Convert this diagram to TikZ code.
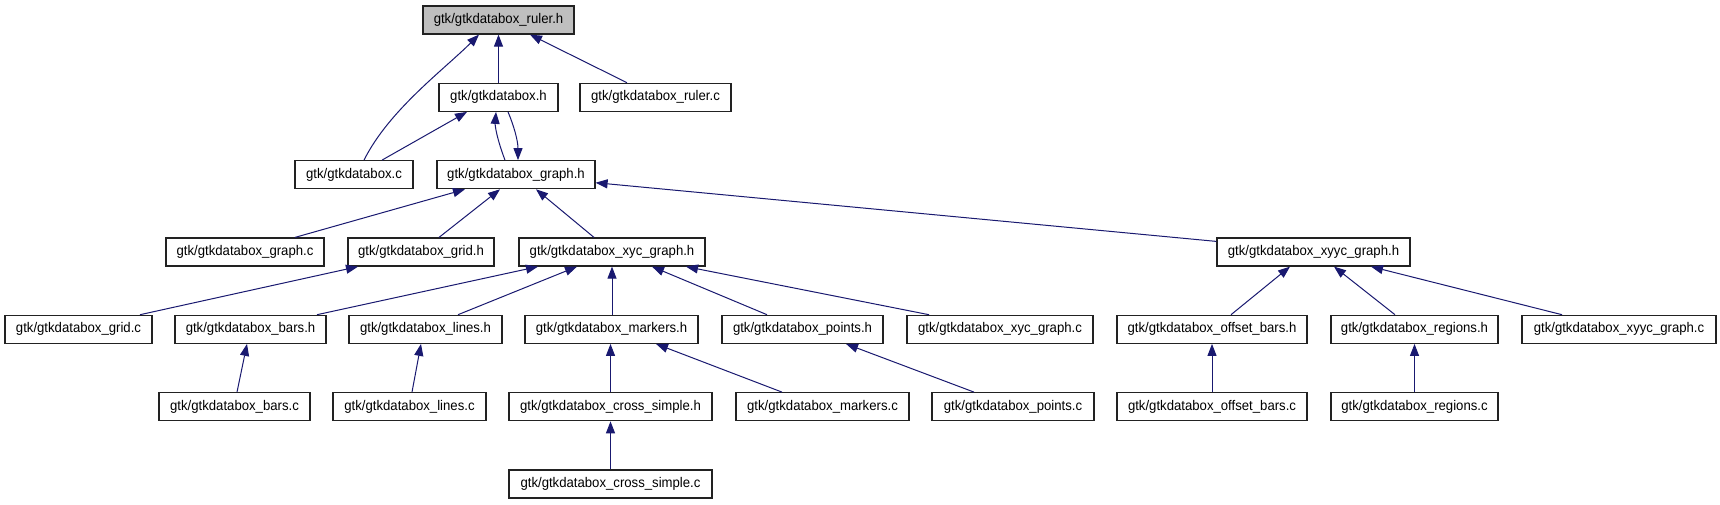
\documentclass[tikz,border=0pt]{standalone}
\usepackage{fontspec}
\setmainfont[FakeStretch=0.94]{Liberation Sans}
\usetikzlibrary{arrows.meta,calc}
\definecolor{edgec}{HTML}{191970}
\definecolor{selfill}{HTML}{BFBFBF}
\definecolor{boxline}{HTML}{222222}
\begin{document}
\begin{tikzpicture}[x=1pt,y=-1pt,
  nbox/.style={draw=boxline, line width=1.2pt, fill=white, inner sep=0pt, minimum height=28pt,
     font=\fontsize{14}{16}\selectfont, anchor=center},
  dep/.style={draw=edgec, line width=1pt, -{Triangle[length=12pt,width=9pt]}}]
\useasboundingbox (0,0) rectangle (1720,504);
\fill[white] (0,0) rectangle (1720,504);
% row 0
\node[nbox, fill=selfill, minimum width=151pt] (R) at (498.5,20) {gtk/gtkdatabox\_ruler.h};
% row 1
\node[nbox, minimum width=119pt] (DH) at (498.5,97.3) {gtk/gtkdatabox.h};
\node[nbox, minimum width=151pt] (RC) at (655.5,97.3) {gtk/gtkdatabox\_ruler.c};
% row 2
\node[nbox, minimum width=118pt] (DC) at (354,174.7) {gtk/gtkdatabox.c};
\node[nbox, minimum width=158pt] (GH) at (516,174.7) {gtk/gtkdatabox\_graph.h};
% row 3
\node[nbox, minimum width=158pt] (GC) at (245,252) {gtk/gtkdatabox\_graph.c};
\node[nbox, minimum width=146pt] (GRH) at (421,252) {gtk/gtkdatabox\_grid.h};
\node[nbox, minimum width=186pt] (XH) at (612,252) {gtk/gtkdatabox\_xyc\_graph.h};
\node[nbox, minimum width=193pt] (YH) at (1313.5,252) {gtk/gtkdatabox\_xyyc\_graph.h};
% row 4
\node[nbox, minimum width=147pt] (GRC) at (78.5,329.3) {gtk/gtkdatabox\_grid.c};
\node[nbox, minimum width=151pt] (BH) at (250.5,329.3) {gtk/gtkdatabox\_bars.h};
\node[nbox, minimum width=153pt] (LH) at (425.5,329.3) {gtk/gtkdatabox\_lines.h};
\node[nbox, minimum width=173pt] (MH) at (611.5,329.3) {gtk/gtkdatabox\_markers.h};
\node[nbox, minimum width=161pt] (PH) at (802.5,329.3) {gtk/gtkdatabox\_points.h};
\node[nbox, minimum width=186pt] (XC) at (1000,329.3) {gtk/gtkdatabox\_xyc\_graph.c};
\node[nbox, minimum width=190pt] (OH) at (1212,329.3) {gtk/gtkdatabox\_offset\_bars.h};
\node[nbox, minimum width=167pt] (RGH) at (1414.5,329.3) {gtk/gtkdatabox\_regions.h};
\node[nbox, minimum width=194pt] (YC) at (1619,329.3) {gtk/gtkdatabox\_xyyc\_graph.c};
% row 5
\node[nbox, minimum width=151pt] (BC) at (234.5,406.7) {gtk/gtkdatabox\_bars.c};
\node[nbox, minimum width=153pt] (LC) at (409.5,406.7) {gtk/gtkdatabox\_lines.c};
\node[nbox, minimum width=203pt] (CH) at (610.5,406.7) {gtk/gtkdatabox\_cross\_simple.h};
\node[nbox, minimum width=173pt] (MC) at (822.5,406.7) {gtk/gtkdatabox\_markers.c};
\node[nbox, minimum width=162pt] (PC) at (1013,406.7) {gtk/gtkdatabox\_points.c};
\node[nbox, minimum width=190pt] (OC) at (1212,406.7) {gtk/gtkdatabox\_offset\_bars.c};
\node[nbox, minimum width=167pt] (RGC) at (1414.5,406.7) {gtk/gtkdatabox\_regions.c};
% row 6
\node[nbox, minimum width=203pt] (CC) at (610.5,484) {gtk/gtkdatabox\_cross\_simple.c};

% edges
\draw[dep] ([xshift=10pt]DC.north) .. controls +(25,-50) and +(-35,35) .. ([xshift=-19.5pt]R.south);
\draw[dep] (DH.north) -- (R.south);
\draw[dep] ([xshift=-28.5pt]RC.north) -- ([xshift=31.5pt]R.south);
\draw[dep] ([xshift=28pt]DC.north) -- ([xshift=-31.5pt]DH.south);
\draw[dep] ([xshift=-11pt]GH.north) .. controls +(-8,-21) and +(-1,14) .. ([xshift=-2.5pt]DH.south);
\draw[dep] ([xshift=9.5pt]DH.south) .. controls +(6,14) and +(0,-19) .. ([xshift=2pt]GH.north);
\draw[dep] ([xshift=50pt]GC.north) -- ([xshift=-51pt]GH.south);
\draw[dep] ([xshift=18pt]GRH.north) -- ([xshift=-16pt]GH.south);
\draw[dep] ([xshift=-18pt]XH.north) -- ([xshift=20pt]GH.south);
\draw[dep] ([yshift=-4pt]YH.north west) -- ([yshift=-8pt]GH.east);
\draw[dep] ([xshift=61.5pt]GRC.north) -- ([xshift=-63pt]GRH.south);
\draw[dep] ([xshift=66.5pt]BH.north) -- ([xshift=-74pt]XH.south);
\draw[dep] ([xshift=32.5pt]LH.north) -- ([xshift=-35pt]XH.south);
\draw[dep] ([xshift=0.5pt]MH.north) -- (XH.south);
\draw[dep] ([xshift=-35.5pt]PH.north) -- ([xshift=40pt]XH.south);
\draw[dep] ([xshift=-71pt]XC.north) -- ([xshift=74pt]XH.south);
\draw[dep] ([xshift=2.5pt]BC.north) -- ([xshift=-3.5pt]BH.south);
\draw[dep] ([xshift=2.5pt]LC.north) -- ([xshift=-4.5pt]LH.south);
\draw[dep] (CH.north) -- ([xshift=-1pt]MH.south);
\draw[dep] ([xshift=-40.5pt]MC.north) -- ([xshift=44.5pt]MH.south);
\draw[dep] ([xshift=-39pt]PC.north) -- ([xshift=43.5pt]PH.south);
\draw[dep] (CC.north) -- (CH.south);
\draw[dep] ([xshift=19pt]OH.north) -- ([xshift=-23.5pt]YH.south);
\draw[dep] ([xshift=-19.5pt]RGH.north) -- ([xshift=20.5pt]YH.south);
\draw[dep] ([xshift=-57pt]YC.north) -- ([xshift=57.5pt]YH.south);
\draw[dep] (OC.north) -- (OH.south);
\draw[dep] (RGC.north) -- (RGH.south);
\end{tikzpicture}
\end{document}
